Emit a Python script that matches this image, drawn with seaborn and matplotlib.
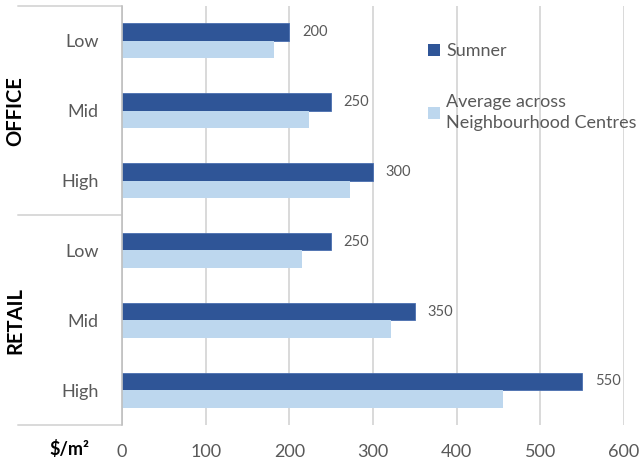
import matplotlib
matplotlib.use("Agg")
import matplotlib.pyplot as plt
import matplotlib.transforms as mtransforms
from matplotlib.lines import Line2D
import pandas as pd
import seaborn as sns

# ---- data ----
groups = ["OFFICE", "OFFICE", "OFFICE", "RETAIL", "RETAIL", "RETAIL"]
levels = ["Low", "Mid", "High", "Low", "Mid", "High"]
sumner = [200, 250, 300, 250, 350, 550]
average = [182, 223, 273, 215, 322, 455]
series_names = ["Sumner", "Average across\nNeighbourhood Centres"]
x_ticks = [0, 100, 200, 300, 400, 500, 600]
unit_label = "$/m²"

keys = [f"{g} {l}" for g, l in zip(groups, levels)]
df = pd.DataFrame({
    "category": keys * 2,
    "value": sumner + average,
    "series": [series_names[0]] * len(keys) + [series_names[1]] * len(keys),
})

sns.set_theme(style="white")
plt.rcParams["font.family"] = ["Lato", "DejaVu Sans"]

DARK = "#2F5597"
LIGHT = "#BDD7EE"
GREY_TXT = "#595959"
GRID = "#D9D9D9"

fig = plt.figure(figsize=(6.43, 4.65), dpi=100)
ax = fig.add_axes([122 / 643, 1 - 425 / 465, (624 - 122) / 643, (425 - 6) / 465])

sns.barplot(data=df, y="category", x="value", hue="series", order=keys,
            hue_order=series_names, palette=[DARK, LIGHT], orient="h",
            width=0.5, ax=ax, legend=False, saturation=1)

for bar in ax.containers[0]:
    bar.set_edgecolor("#4A6FB0")
    bar.set_linewidth(0.6)
for bar in ax.containers[1]:
    bar.set_linewidth(0)

ax.set_xlim(0, 600)
ax.set_ylim(len(keys) - 0.5, -0.5)
ax.set_xticks(x_ticks)
ax.set_xticklabels([str(t) for t in x_ticks], color=GREY_TXT, fontsize=13)
ax.set_yticks(range(len(keys)))
ax.set_yticklabels(levels, color=GREY_TXT, fontsize=13)
ax.tick_params(axis="x", length=0, pad=14)
ax.tick_params(axis="y", length=0, pad=17)
ax.set_xlabel("")
ax.set_ylabel("")

ax.grid(axis="x", color=GRID, linewidth=1.4)
ax.set_axisbelow(True)
for side in ["top", "right", "bottom"]:
    ax.spines[side].set_visible(False)
ax.spines["left"].set_color("#BFBFBF")
ax.spines["left"].set_linewidth(1.2)

# value labels on the Sumner bars
ax.bar_label(ax.containers[0], labels=[str(v) for v in sumner], padding=9,
             color=GREY_TXT, fontsize=10.5)

# group separators and group names on the category axis
trans = mtransforms.blended_transform_factory(fig.transFigure, ax.transData)
for yb in [-0.5, 2.5, 5.5]:
    ax.add_line(Line2D([18 / 643, 121 / 643], [yb, yb], transform=trans,
                       color=GRID, linewidth=1.4, clip_on=False))
for name, yc in [("OFFICE", 1), ("RETAIL", 4)]:
    ax.text(15 / 643, yc, name, transform=trans, rotation=90, ha="center",
            va="center", fontsize=14.5, fontweight="bold", color="black")

fig.text(69 / 643, 1 - 449 / 465, unit_label, ha="center", va="center",
         fontsize=13, fontweight="bold", color="black")

# legend
handles = [plt.Rectangle((0, 0), 1, 1, facecolor=DARK, edgecolor="none"),
           plt.Rectangle((0, 0), 1, 1, facecolor=LIGHT, edgecolor="none")]
leg = fig.legend(handles, series_names, loc="upper left",
                 bbox_to_anchor=(421 / 643, 1 - 36 / 465), frameon=False,
                 fontsize=13, handlelength=0.65, handleheight=0.65,
                 handletextpad=0.35, labelspacing=1.95, borderaxespad=0)
for t in leg.get_texts():
    t.set_color(GREY_TXT)
    t.set_linespacing(1.38)

fig.savefig("out.png", dpi=100)
